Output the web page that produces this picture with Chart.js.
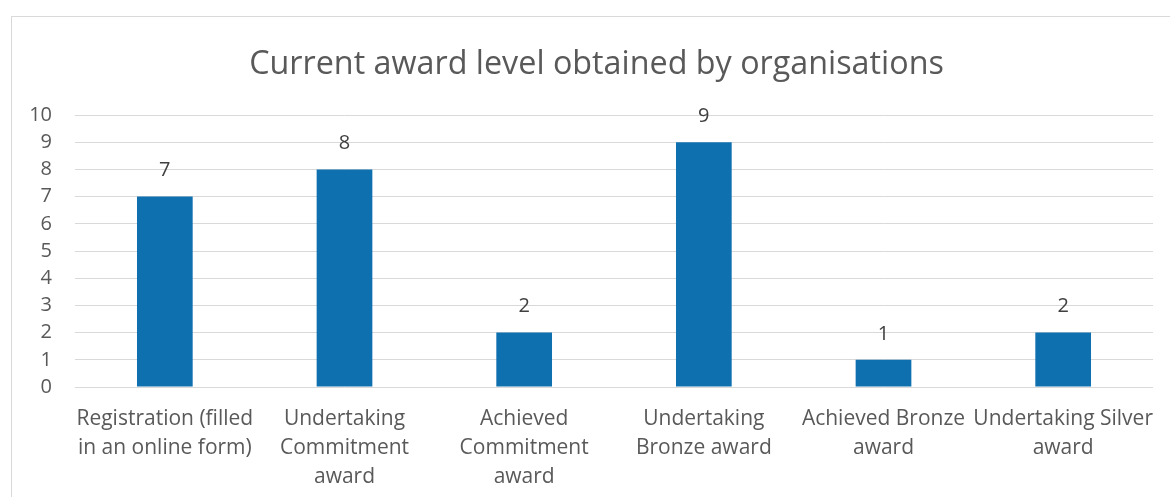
<!DOCTYPE html>
<html>
<head>
<meta charset="utf-8">
<script src="https://cdn.jsdelivr.net/npm/chart.js@4/dist/chart.umd.min.js"></script>
<style>
  html, body { margin: 0; padding: 0; background: #fff; overflow: hidden; }
  #wrap { position: absolute; left: 0; top: 0; width: 1193px; height: 497px; }
</style>
</head>
<body>
<div id="wrap"><canvas id="barChart"></canvas></div>
<script>
var chartTitle = 'Current award level obtained by organisations';
var categories = [
    ['Registration (filled', 'in an online form)'],
    ['Undertaking', 'Commitment', 'award'],
    ['Achieved', 'Commitment', 'award'],
    ['Undertaking', 'Bronze award'],
    ['Achieved Bronze', 'award'],
    ['Undertaking Silver', 'award']
];
var counts = [7, 8, 2, 9, 1, 2];
var yTicks = [0, 1, 2, 3, 4, 5, 6, 7, 8, 9, 10];

var fontName = "'Open Sans', sans-serif";

// frame round the chart, title centred on the frame, value labels over the bars
var extras = {
    id: 'extras',
    beforeDraw: function (chart) {
        var ctx = chart.ctx;
        ctx.save();
        ctx.strokeStyle = '#D9D9D9';
        ctx.lineWidth = 1;
        ctx.strokeRect(11.5, 16.5, 1170, 600);
        ctx.font = '32.3px ' + fontName;
        ctx.fillStyle = '#595959';
        ctx.textAlign = 'center';
        ctx.textBaseline = 'middle';
        ctx.fillText(chartTitle, 596.5, 64.4);
        ctx.restore();
    },
    afterDatasetsDraw: function (chart) {
        var ctx = chart.ctx;
        var meta = chart.getDatasetMeta(0);
        ctx.save();
        ctx.font = '20px ' + fontName;
        ctx.fillStyle = '#404040';
        ctx.textAlign = 'center';
        ctx.textBaseline = 'middle';
        meta.data.forEach(function (bar, i) {
            ctx.fillText(String(counts[i]), bar.x, bar.y - 26);
        });
        ctx.restore();
    }
};

new Chart(document.getElementById('barChart').getContext('2d'), {
    type: 'bar',
    data: {
        labels: categories,
        datasets: [{
            label: 'Organisations',
            data: counts,
            backgroundColor: '#0F70B0',
            borderWidth: 0,
            barPercentage: 0.31,
            categoryPercentage: 1
        }]
    },
    options: {
        responsive: true,
        maintainAspectRatio: false,
        animation: false,
        layout: { padding: { left: 0, right: 40, top: 115, bottom: 0 } },
        plugins: {
            legend: { display: false },
            tooltip: { enabled: false },
            title: { display: false }
        },
        scales: {
            x: {
                grid: { display: false, drawTicks: false },
                border: { display: false },
                ticks: {
                    color: '#595959',
                    font: { family: fontName, size: 21, lineHeight: 1.4 },
                    padding: 17,
                    maxRotation: 0,
                    autoSkip: false
                },
                afterFit: function (scale) { scale.height = 110; }
            },
            y: {
                min: 0,
                max: 10,
                afterBuildTicks: function (scale) {
                    scale.ticks = yTicks.map(function (v) { return { value: v }; });
                },
                grid: { color: '#D9D9D9', lineWidth: 1, drawTicks: false },
                border: { display: false },
                ticks: {
                    color: '#595959',
                    font: { family: fontName, size: 20 },
                    padding: 23
                },
                afterFit: function (scale) { scale.width = 75; }
            }
        }
    },
    plugins: [extras]
});
</script>
</body>
</html>
